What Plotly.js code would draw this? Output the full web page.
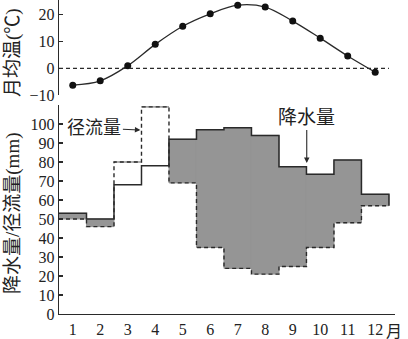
<!DOCTYPE html>
<html>
<head>
<meta charset="utf-8">
<script src="https://cdn.plot.ly/plotly-3.0.1.min.js"></script>
<style>html,body{margin:0;padding:0;background:#fff;}#chart{width:408px;height:339px;}</style>
</head>
<body>
<div id="chart"></div>
<script>
const months = [1, 2, 3, 4, 5, 6, 7, 8, 9, 10, 11, 12];
const monthLabels = ["1", "2", "3", "4", "5", "6", "7", "8", "9", "10", "11", "12"];
const temperature = [-6.2, -4.6, 1.0, 8.9, 15.6, 20.2, 23.4, 22.7, 17.5, 11.2, 4.6, -1.4];
const precipitation = [53, 50, 68, 78, 92, 97, 98, 94, 77.5, 73.5, 81, 63];
const runoff = [50, 46, 80, 109, 69, 35, 24, 21, 25, 35, 48, 57];
const tempTicks = [-10, 0, 10, 20];
const flowTicks = [0, 10, 20, 30, 40, 50, 60, 70, 80, 90, 100];

const serif = "Liberation Serif, 'Noto Sans CJK SC', serif";
const ink = "#2a2a2a";
const shade = "#959595";

const edges = months.map(m => m - 0.5).concat([months[months.length - 1] + 0.5]);
const boundaries = months.slice(0, -1).map(m => m + 0.5);
const last = months.length - 1;

const fillTrace = {
  type: "bar", x: months, base: runoff,
  y: months.map((m, i) => Math.max(precipitation[i] - runoff[i], 0)),
  width: 1, marker: {color: shade, line: {width: 1, color: shade}},
  xaxis: "x", yaxis: "y", hoverinfo: "skip"
};
const runoffTrace = {
  type: "scatter", mode: "lines", x: edges, y: runoff.concat([runoff[last]]),
  line: {shape: "hv", color: ink, width: 1.4, dash: "4px,3px"},
  xaxis: "x", yaxis: "y"
};
const precipTrace = {
  type: "scatter", mode: "lines", x: edges.concat([edges[edges.length - 1]]),
  y: precipitation.concat([precipitation[last], runoff[last]]),
  line: {shape: "hv", color: ink, width: 1.5},
  xaxis: "x", yaxis: "y"
};
const tempTrace = {
  type: "scatter", mode: "lines+markers", x: months, y: temperature,
  line: {shape: "spline", smoothing: 1, color: ink, width: 1.3},
  marker: {color: "#111", size: 7},
  xaxis: "x", yaxis: "y2"
};

const tickFont = {family: serif, size: 16, color: "#222"};

const layout = {
  width: 408, height: 339,
  margin: {l: 59, r: 13, t: 0, b: 25},
  paper_bgcolor: "#fff", plot_bgcolor: "rgba(0,0,0,0)",
  showlegend: false, barmode: "overlay",
  xaxis: {
    range: [0.5, 12.72], tickvals: months, ticktext: monthLabels,
    ticks: "", showline: true, linecolor: ink, linewidth: 1.3,
    showgrid: false, zeroline: false, tickfont: tickFont, anchor: "y"
  },
  xaxis3: {
    overlaying: "x", range: [0.5, 12.72], tickvals: boundaries,
    ticks: "inside", ticklen: 5, tickcolor: ink, tickwidth: 1.2,
    showticklabels: false, showline: false, showgrid: false, zeroline: false, anchor: "y"
  },
  yaxis: {
    domain: [0, 0.6656], range: [0, 110], tickvals: flowTicks,
    ticks: "inside", ticklen: 4, tickcolor: ink, tickwidth: 1.2,
    showline: true, linecolor: ink, linewidth: 1.3,
    showgrid: false, zeroline: false, tickfont: tickFont
  },
  yaxis2: {
    domain: [0.696, 1], range: [-10, 25.3], tickvals: tempTicks,
    ticks: "inside", ticklen: 4, tickcolor: ink, tickwidth: 1.2,
    showline: true, linecolor: ink, linewidth: 1.3,
    showgrid: false, zeroline: false, tickfont: tickFont, anchor: "x"
  },
  shapes: [{
    type: "line", xref: "x", yref: "y2", x0: 0.5, x1: 12.5, y0: 0, y1: 0,
    line: {color: ink, width: 1.2, dash: "4px,3px"}
  }],
  annotations: [
    {xref: "paper", yref: "paper", x: -46 / 336, y: 1 - 52 / 314, text: "月均温(℃)",
     textangle: -90, showarrow: false, xanchor: "center", yanchor: "middle",
     font: {family: serif, size: 19, color: "#222"}},
    {xref: "paper", yref: "paper", x: -46 / 336, y: 1 - 213 / 314, text: "降水量/径流量(mm)",
     textangle: -90, showarrow: false, xanchor: "center", yanchor: "middle",
     font: {family: serif, size: 19, color: "#222"}},
    {xref: "paper", yref: "paper", x: 344 / 336, y: -17 / 314, text: "月",
     showarrow: false, xanchor: "right", yanchor: "middle", borderpad: 0,
     font: {family: serif, size: 16, color: "#222"}},
    {xref: "x", yref: "y", x: 3.46, y: 96.8, text: "径流量", showarrow: true,
     ax: -46, ay: -2, arrowhead: 2, arrowsize: 1, arrowwidth: 1.1, arrowcolor: ink,
     font: {family: serif, size: 18, color: "#222"}},
    {xref: "x", yref: "y", x: 9.51, y: 79.5, text: "降水量", showarrow: true,
     ax: 0, ay: -45, arrowhead: 2, arrowsize: 1, arrowwidth: 1.1, arrowcolor: ink,
     font: {family: serif, size: 19, color: "#222"}}
  ]
};

Plotly.newPlot("chart", [fillTrace, runoffTrace, precipTrace, tempTrace], layout, {displayModeBar: false, staticPlot: true});
</script>
</body>
</html>
